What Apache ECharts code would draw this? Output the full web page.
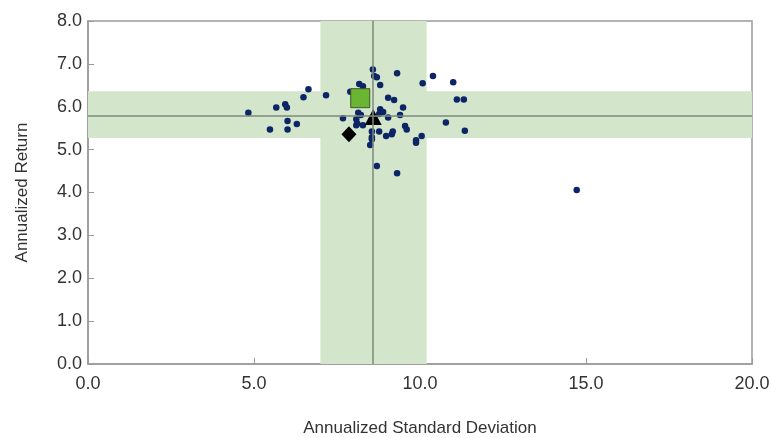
<!DOCTYPE html>
<html>
<head>
<meta charset="utf-8">
<script src="https://cdn.jsdelivr.net/npm/echarts@6/dist/echarts.min.js"></script>
<style>html,body{margin:0;padding:0;background:#fff}#c{width:772px;height:438px}</style>
</head>
<body>
<div id="c"></div>
<script>
var xTicks = ['0.0','5.0','10.0','15.0','20.0'];
var yTicks = ['0.0','1.0','2.0','3.0','4.0','5.0','6.0','7.0','8.0'];
var fundStdDev = [4.83,5.48,5.67,5.94,5.99,6.01,6.01,6.29,6.49,6.64,7.17,7.68,7.90,8.17,8.28,8.58,8.62,8.70,9.31,10.39,10.08,11.00,8.80,9.04,9.22,11.11,11.32,9.49,8.80,8.89,8.77,9.40,9.04,8.14,8.22,8.08,8.11,8.28,8.08,10.78,11.35,8.55,8.77,8.55,8.55,8.50,8.98,9.15,9.18,9.55,9.60,10.05,9.88,9.88,8.70,9.31,14.72];
var fundReturn = [5.86,5.47,5.98,6.06,5.98,5.67,5.47,5.60,6.22,6.41,6.27,5.73,6.35,6.53,6.48,6.87,6.72,6.69,6.78,6.72,6.55,6.57,6.51,6.21,6.16,6.17,6.17,5.98,5.94,5.88,5.83,5.81,5.75,5.86,5.81,5.71,5.61,5.57,5.57,5.63,5.44,5.42,5.42,5.29,5.24,5.11,5.32,5.36,5.42,5.55,5.47,5.32,5.22,5.16,4.62,4.45,4.06];
var portfolioPoint = [8.20, 6.20];
var diamondPoint = [7.86, 5.36];
var benchmarkPoint = [8.59, 5.76];
var medianStdDev = 8.58;
var medianReturn = 5.80;
var stdDevBand = [7.0, 10.2];
var returnBand = [5.27, 6.36];

var fundData = fundStdDev.map(function(x, i){ return [x, fundReturn[i]]; });
var bandColor = '#d3e5cb';
var lineColor = '#7d8a7b';
var font = '"Liberation Sans", Arial, sans-serif';

var chart = echarts.init(document.getElementById('c'));
chart.setOption({
  animation: false,
  grid: { left: 88, right: 20, top: 21, bottom: 74, outerBoundsMode: 'none', containLabel: false,
    show: true, borderColor: '#9a9a9a', borderWidth: 1.5 },
  xAxis: {
    type: 'value', min: 0, max: 20, interval: 5,
    name: 'Annualized Standard Deviation', nameLocation: 'middle', nameGap: 56,
    nameTextStyle: { fontFamily: font, fontSize: 17, color: '#333' },
    axisLine: { show: true, lineStyle: { color: '#9a9a9a', width: 1.5 } },
    axisTick: { show: true, inside: true, length: 6, lineStyle: { color: '#9a9a9a' } },
    splitLine: { show: false },
    axisLabel: { fontFamily: font, fontSize: 18, color: '#333', margin: 11,
      formatter: function(v){ return xTicks[Math.round(v/5)]; } }
  },
  yAxis: {
    type: 'value', min: 0, max: 8, interval: 1,
    name: 'Annualized Return', nameLocation: 'middle', nameGap: 57, nameRotate: 90,
    nameTextStyle: { fontFamily: font, fontSize: 17, color: '#333' },
    axisLine: { show: true, lineStyle: { color: '#9a9a9a', width: 1.5 } },
    axisTick: { show: true, inside: true, length: 6, lineStyle: { color: '#9a9a9a' } },
    splitLine: { show: false },
    axisLabel: { fontFamily: font, fontSize: 18, color: '#333', margin: 6,
      formatter: function(v){ return yTicks[Math.round(v)]; } }
  },
  series: [
    {
      type: 'scatter', data: [], z: 1,
      markArea: {
        silent: true,
        itemStyle: { color: bandColor, opacity: 1 },
        data: [
          [{ xAxis: stdDevBand[0], yAxis: 0 }, { xAxis: stdDevBand[1], yAxis: 8 }],
          [{ xAxis: 0, yAxis: returnBand[0] }, { xAxis: 20, yAxis: returnBand[1] }]
        ]
      },
      markLine: {
        silent: true, symbol: ['none','none'], label: { show: false },
        lineStyle: { color: lineColor, width: 1.5, type: 'solid' },
        data: [ { xAxis: medianStdDev }, { yAxis: medianReturn } ]
      }
    },
    {
      type: 'scatter', data: fundData, symbol: 'circle', symbolSize: 6.5, z: 3,
      itemStyle: { color: '#0c2566', opacity: 1 }
    },
    {
      type: 'scatter', data: [portfolioPoint], symbol: 'rect', symbolSize: 19, z: 4,
      itemStyle: { color: '#6ab531', borderColor: '#3d5a2a', borderWidth: 1, opacity: 1 }
    },
    {
      type: 'scatter', data: [diamondPoint], symbol: 'diamond', symbolSize: [15, 16], z: 4,
      itemStyle: { color: '#000', opacity: 1 }
    },
    {
      type: 'scatter', data: [benchmarkPoint], symbol: 'triangle', symbolSize: [17, 16], z: 4,
      itemStyle: { color: '#000', opacity: 1 }
    }
  ]
});
</script>
</body>
</html>
